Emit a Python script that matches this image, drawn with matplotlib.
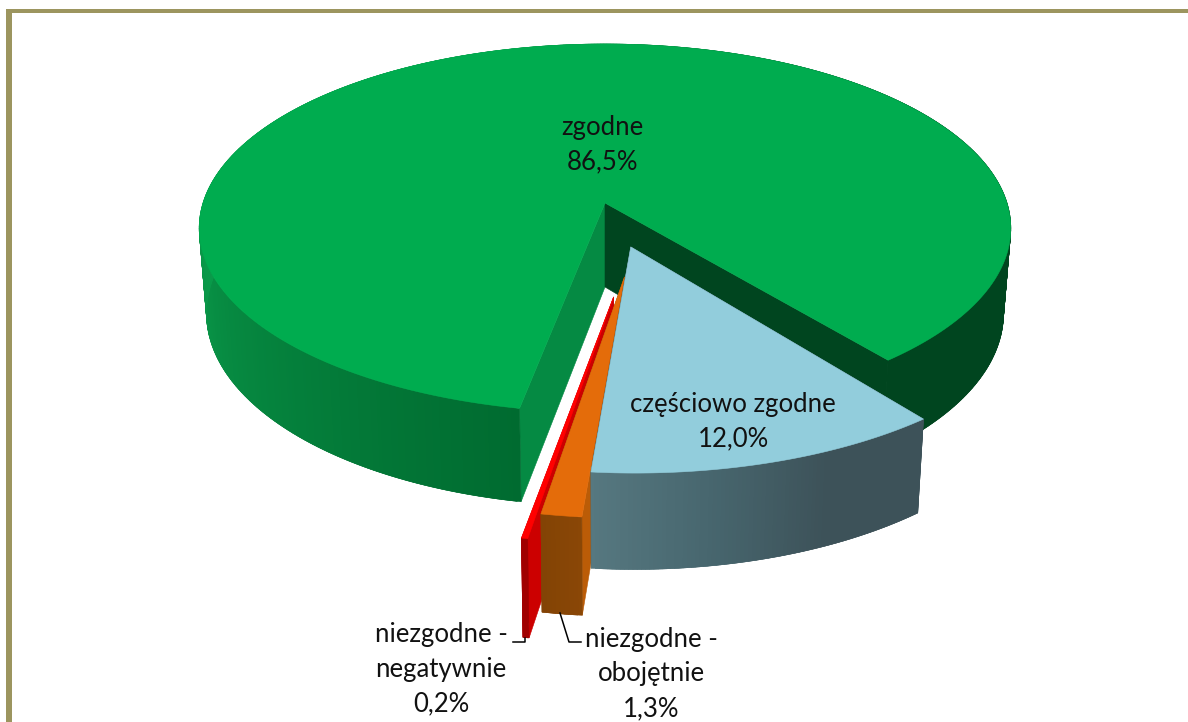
import numpy as np
import matplotlib
matplotlib.use("Agg")
import matplotlib.pyplot as plt
from matplotlib.colors import to_rgb

# Data
categories = ["zgodne", "częściowo zgodne", "niezgodne -\nobojętnie", "niezgodne -\nnegatywnie"]
values = [86.5, 12.0, 1.3, 0.2]
value_labels = ["86,5%", "12,0%", "1,3%", "0,2%"]

# Pie look
top_colors = ["#00ac4f", "#92cddc", "#e46c0a", "#ff0000"]
cut_colors = [("#00451f", "#058a43"), ("#3f545c", "#3f545c"), ("#bb5c07", "#87450a"), ("#cc0000", "#cc0000")]
wall_stops = [["#006b30", "#0a9a4a", "#0a9a4a", "#00451f", "#00451f"],
              ["#567880", "#47666e", "#3d5259", "#3d5259"],
              ["#8a4706", "#834305"],
              ["#a00000", "#a00000"]]
offsets = [(0.0, 0.0), (0.062, 0.235), (0.046, 0.387), (0.02, 0.485)]
radii = [1.0, 1.005, 1.02, 1.01]
start_angle = 38.0
green_gap = 1.0

# Perspective of the disc, in pixels
CX, CY = 605.0, 203.0
A, B, H = 402.0, 180.8, 84.0
K = 0.137
SHRINK = 0.018


def project(x, y, z=0.0):
    w = 1 - K * y
    s = 1 - SHRINK * z
    return CX + A * s * x / w, CY + B * s * y / w + H * z / w


def slice_points(phi, off, rad, z=0.0):
    x = off[0] + rad * np.sin(np.radians(phi))
    y = off[1] + rad * np.cos(np.radians(phi))
    return project(x, y, z)


def quad(ax, pts, color, zorder):
    ax.fill([p[0] for p in pts], [p[1] for p in pts], color=color, lw=0.4, zorder=zorder)


def draw_slice(ax, a0, a1, off, rad, top, cuts, stops, zorder):
    apex_top = project(off[0], off[1], 0)
    apex_bot = project(off[0], off[1], 1)
    # cut faces: first side a0, then side a1
    for a, col in zip((a0, a1), cuts):
        quad(ax, [apex_top, slice_points(a, off, rad), slice_points(a, off, rad, 1), apex_bot], col, zorder)
    # outer wall as thin strips with a colour ramp, each one overlaps the next so no seams show
    n = max(int(abs(a1 - a0) * 2), 6)
    phis = np.linspace(a0, a1, n + 1)
    rgb = np.array([to_rgb(c) for c in stops])
    pos = np.linspace(0, 1, len(stops))
    for i in range(n):
        t = (i + 0.5) / n
        col = [np.interp(t, pos, rgb[:, j]) for j in range(3)]
        a, b = phis[i], phis[min(i + 2, n)]
        quad(ax, [slice_points(a, off, rad), slice_points(b, off, rad), slice_points(b, off, rad, 1), slice_points(a, off, rad, 1)], col, zorder + 1)
    # top
    xs, ys = slice_points(np.linspace(a0, a1, 300), off, rad)
    ax.fill(np.r_[apex_top[0], xs], np.r_[apex_top[1], ys], color=top, lw=0.4, zorder=zorder + 2)


fig = plt.figure(figsize=(11.88, 7.22), dpi=100)
ax = fig.add_axes([0, 0, 1, 1])
ax.set_xlim(0, 1188)
ax.set_ylim(722, 0)
ax.axis("off")

# Frame, only top and left are in view
ax.fill_between([6, 1188], 9, 12.5, color="#9c955f", lw=0, zorder=1)
ax.fill_between([6, 11.5], 9, 722, color="#9c955f", lw=0, zorder=1)

# Slices go clockwise from the start angle: blue, orange, red, then green round the back
spans = np.array(values) / sum(values) * 360
blue_end = start_angle - spans[1]
orange_end = blue_end - spans[2]
red_end = orange_end - spans[3]

draw_slice(ax, red_end, start_angle + green_gap - 360, offsets[0], radii[0], top_colors[0],
           (cut_colors[0][1], cut_colors[0][0]), wall_stops[0], 2)
draw_slice(ax, orange_end, red_end, offsets[3], radii[3], top_colors[3], cut_colors[3], wall_stops[3], 6)
draw_slice(ax, blue_end, orange_end, offsets[2], radii[2], top_colors[2], cut_colors[2], wall_stops[2], 10)
draw_slice(ax, blue_end, start_angle, offsets[1], radii[1], top_colors[1], cut_colors[1], wall_stops[1], 14)

# Labels
font = dict(family="Lato", fontsize=18.5, color="#111111", ha="center", va="center", zorder=30, linespacing=1.47)
ax.text(602, 145, categories[0] + "\n" + value_labels[0], **font)
ax.text(733, 422, categories[1] + "\n" + value_labels[1], **font)
ax.text(651, 674, categories[2] + "\n" + value_labels[2], **font)
ax.text(441, 669, categories[3] + "\n" + value_labels[3], **font)

# Leader lines
ax.plot([560, 569, 581], [613, 642, 642], color="black", lw=1.1, zorder=29)
ax.plot([525, 525, 513], [638, 642, 642], color="black", lw=1.1, zorder=29)

fig.savefig("out.png", dpi=100)
